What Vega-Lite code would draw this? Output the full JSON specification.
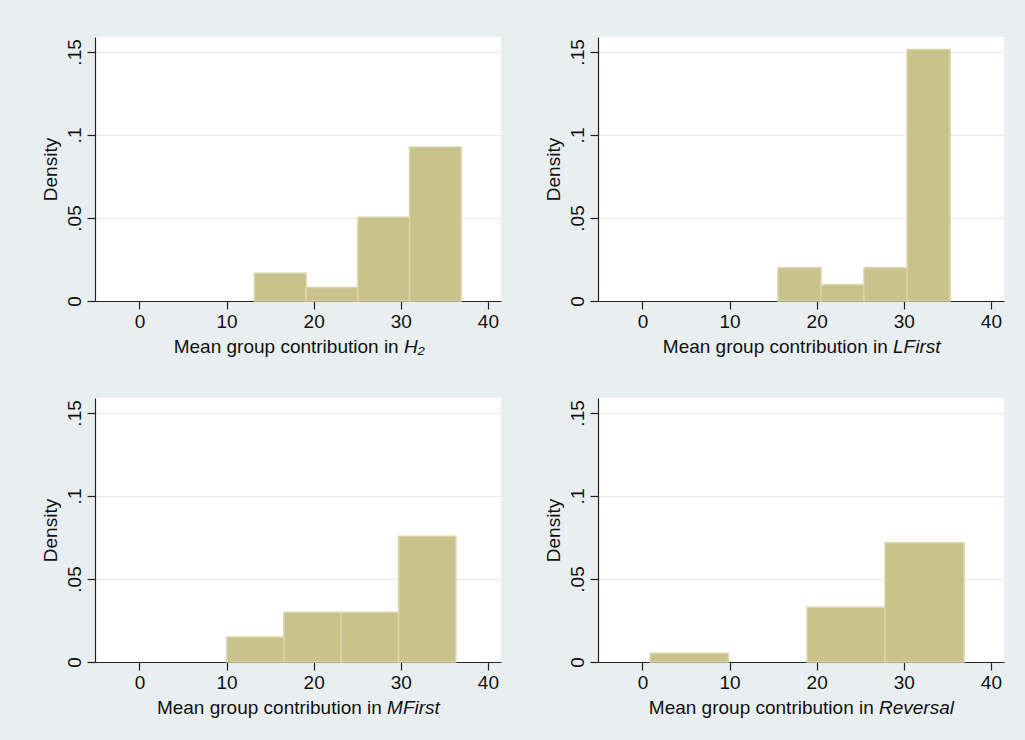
{
  "$schema": "https://vega.github.io/schema/vega-lite/v6.json",
  "padding": {"left": 41, "top": 37, "right": 22, "bottom": 25},
  "data": {"values": [
    {"panel": "H2", "lo": 13.2, "hi": 19.14, "density": 0.0167},
    {"panel": "H2", "lo": 19.14, "hi": 25.07, "density": 0.0082},
    {"panel": "H2", "lo": 25.07, "hi": 31.0, "density": 0.0504},
    {"panel": "H2", "lo": 31.0, "hi": 36.93, "density": 0.0928},
    {"panel": "LFirst", "lo": 15.55, "hi": 20.5, "density": 0.020},
    {"panel": "LFirst", "lo": 20.5, "hi": 25.43, "density": 0.0098},
    {"panel": "LFirst", "lo": 25.43, "hi": 30.37, "density": 0.020},
    {"panel": "LFirst", "lo": 30.37, "hi": 35.32, "density": 0.1514},
    {"panel": "MFirst", "lo": 10.03, "hi": 16.58, "density": 0.015},
    {"panel": "MFirst", "lo": 16.58, "hi": 23.16, "density": 0.030},
    {"panel": "MFirst", "lo": 23.16, "hi": 29.75, "density": 0.030},
    {"panel": "MFirst", "lo": 29.75, "hi": 36.32, "density": 0.0758},
    {"panel": "Reversal", "lo": 0.88, "hi": 9.86, "density": 0.0052},
    {"panel": "Reversal", "lo": 18.9, "hi": 27.84, "density": 0.0329},
    {"panel": "Reversal", "lo": 27.84, "hi": 36.92, "density": 0.0718}
  ]},
  "columns": 2,
  "spacing": {"row": 97, "column": 97},
  "bounds": "flush",
  "concat": [
    {
      "width": 406, "height": 264,
      "transform": [{"filter": "datum.panel == 'H2'"}],
      "layer": [
        {"mark": {"type": "bar", "fill": "#C9C38B", "stroke": "#DAD6AC", "strokeWidth": 1.5},
         "encoding": {
           "x": {"field": "lo", "type": "quantitative", "scale": {"domain": [-5.1, 41.5], "nice": false, "zero": false},
                 "axis": {"orient": "bottom", "values": [0, 10, 20, 30, 40], "title": "Mean group contribution in", "titleX": 78.2}},
           "x2": {"field": "hi"},
           "y": {"field": "density", "type": "quantitative", "scale": {"domain": [0, 0.159], "nice": false},
                 "axis": {"values": [0, 0.05, 0.1, 0.15], "labelExpr": "datum.value == 0 ? '0' : replace(format(datum.value, '.2~f'), '0.', '.')", "title": "Density"}},
           "y2": {"datum": 0}
         }},
        {"mark": {"type": "bar", "opacity": 0},
         "encoding": {
           "x": {"field": "lo", "type": "quantitative",
                 "axis": {"orient": "bottom", "title": "H₂", "titleX": 308.4, "titleFontStyle": "italic", "domain": false, "ticks": false, "labels": false, "grid": false}},
           "x2": {"field": "hi"},
           "y": {"field": "density", "type": "quantitative"},
           "y2": {"datum": 0}
         }}
      ],
      "resolve": {"axis": {"x": "independent"}}
    },
    {
      "width": 406, "height": 264,
      "transform": [{"filter": "datum.panel == 'LFirst'"}],
      "layer": [
        {"mark": {"type": "bar", "fill": "#C9C38B", "stroke": "#DAD6AC", "strokeWidth": 1.5},
         "encoding": {
           "x": {"field": "lo", "type": "quantitative", "scale": {"domain": [-5.1, 41.5], "nice": false, "zero": false},
                 "axis": {"orient": "bottom", "values": [0, 10, 20, 30, 40], "title": "Mean group contribution in", "titleX": 64.3}},
           "x2": {"field": "hi"},
           "y": {"field": "density", "type": "quantitative", "scale": {"domain": [0, 0.159], "nice": false},
                 "axis": {"values": [0, 0.05, 0.1, 0.15], "labelExpr": "datum.value == 0 ? '0' : replace(format(datum.value, '.2~f'), '0.', '.')", "title": "Density"}},
           "y2": {"datum": 0}
         }},
        {"mark": {"type": "bar", "opacity": 0},
         "encoding": {
           "x": {"field": "lo", "type": "quantitative",
                 "axis": {"orient": "bottom", "title": "LFirst", "titleX": 294.5, "titleFontStyle": "italic", "domain": false, "ticks": false, "labels": false, "grid": false}},
           "x2": {"field": "hi"},
           "y": {"field": "density", "type": "quantitative"},
           "y2": {"datum": 0}
         }}
      ],
      "resolve": {"axis": {"x": "independent"}}
    },
    {
      "width": 406, "height": 264,
      "transform": [{"filter": "datum.panel == 'MFirst'"}],
      "layer": [
        {"mark": {"type": "bar", "fill": "#C9C38B", "stroke": "#DAD6AC", "strokeWidth": 1.5},
         "encoding": {
           "x": {"field": "lo", "type": "quantitative", "scale": {"domain": [-5.1, 41.5], "nice": false, "zero": false},
                 "axis": {"orient": "bottom", "values": [0, 10, 20, 30, 40], "title": "Mean group contribution in", "titleX": 61.4}},
           "x2": {"field": "hi"},
           "y": {"field": "density", "type": "quantitative", "scale": {"domain": [0, 0.159], "nice": false},
                 "axis": {"values": [0, 0.05, 0.1, 0.15], "labelExpr": "datum.value == 0 ? '0' : replace(format(datum.value, '.2~f'), '0.', '.')", "title": "Density"}},
           "y2": {"datum": 0}
         }},
        {"mark": {"type": "bar", "opacity": 0},
         "encoding": {
           "x": {"field": "lo", "type": "quantitative",
                 "axis": {"orient": "bottom", "title": "MFirst", "titleX": 291.6, "titleFontStyle": "italic", "domain": false, "ticks": false, "labels": false, "grid": false}},
           "x2": {"field": "hi"},
           "y": {"field": "density", "type": "quantitative"},
           "y2": {"datum": 0}
         }}
      ],
      "resolve": {"axis": {"x": "independent"}}
    },
    {
      "width": 406, "height": 264,
      "transform": [{"filter": "datum.panel == 'Reversal'"}],
      "layer": [
        {"mark": {"type": "bar", "fill": "#C9C38B", "stroke": "#DAD6AC", "strokeWidth": 1.5},
         "encoding": {
           "x": {"field": "lo", "type": "quantitative", "scale": {"domain": [-5.1, 41.5], "nice": false, "zero": false},
                 "axis": {"orient": "bottom", "values": [0, 10, 20, 30, 40], "title": "Mean group contribution in", "titleX": 50.3}},
           "x2": {"field": "hi"},
           "y": {"field": "density", "type": "quantitative", "scale": {"domain": [0, 0.159], "nice": false},
                 "axis": {"values": [0, 0.05, 0.1, 0.15], "labelExpr": "datum.value == 0 ? '0' : replace(format(datum.value, '.2~f'), '0.', '.')", "title": "Density"}},
           "y2": {"datum": 0}
         }},
        {"mark": {"type": "bar", "opacity": 0},
         "encoding": {
           "x": {"field": "lo", "type": "quantitative",
                 "axis": {"orient": "bottom", "title": "Reversal", "titleX": 280.5, "titleFontStyle": "italic", "domain": false, "ticks": false, "labels": false, "grid": false}},
           "x2": {"field": "hi"},
           "y": {"field": "density", "type": "quantitative"},
           "y2": {"datum": 0}
         }}
      ],
      "resolve": {"axis": {"x": "independent"}}
    }
  ],
  "config": {
    "background": "#E9EFF0",
    "font": "Liberation Sans",
    "view": {"fill": "white", "stroke": null},
    "axis": {
      "domainColor": "#222222", "domainWidth": 1.2, "tickColor": "#222222", "tickWidth": 1.2, "tickSize": 8,
      "labelFont": "Liberation Sans", "titleFont": "Liberation Sans",
      "labelFontSize": 19, "titleFontSize": 19, "labelColor": "#111111", "titleColor": "#111111",
      "titleFontWeight": "normal", "gridColor": "#E2EAEC", "gridWidth": 1.2,
      "labelFlush": false, "labelOverlap": false, "labelBound": false
    },
    "axisX": {"grid": false, "labelBaseline": "alphabetic", "labelAlign": "center", "labelPadding": 18, "titleBaseline": "alphabetic", "titleY": 51, "titleAlign": "left", "titleAngle": 0},
    "axisY": {"grid": true, "labelAngle": 270, "labelAlign": "center", "labelBaseline": "alphabetic", "labelPadding": 7, "titleX": -38.7, "titleBaseline": "alphabetic", "titleAngle": 270, "titleAlign": "center"}
  }
}
